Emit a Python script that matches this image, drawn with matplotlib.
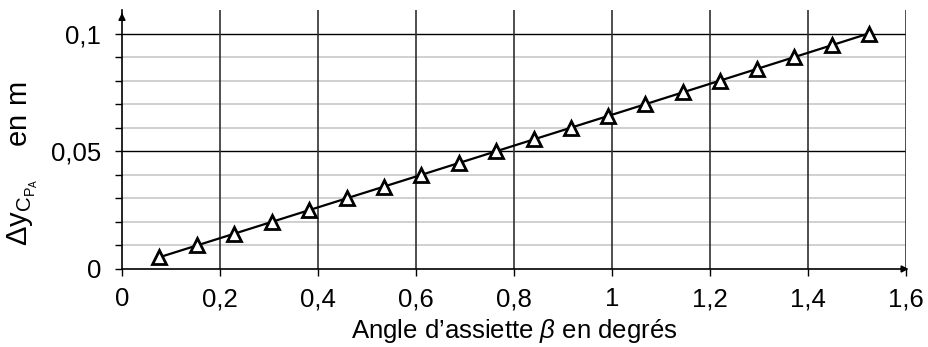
import matplotlib
matplotlib.use("Agg")
import matplotlib.pyplot as plt

plt.rcParams['font.family'] = ['Liberation Sans', 'DejaVu Sans']
plt.rcParams['mathtext.fontset'] = 'custom'
plt.rcParams['mathtext.rm'] = 'Liberation Sans'
plt.rcParams['mathtext.it'] = 'Liberation Sans:italic'

# Data
beta_deg = [0.0764, 0.1528, 0.2292, 0.3056, 0.3820, 0.4583, 0.5347, 0.6110,
            0.6873, 0.7636, 0.8398, 0.9160, 0.9922, 1.0683, 1.1443, 1.2204,
            1.2963, 1.3722, 1.4480, 1.5237]
delta_y = [0.005, 0.010, 0.015, 0.020, 0.025, 0.030, 0.035, 0.040, 0.045, 0.050,
           0.055, 0.060, 0.065, 0.070, 0.075, 0.080, 0.085, 0.090, 0.095, 0.100]
x_ticks = [0, 0.2, 0.4, 0.6, 0.8, 1.0, 1.2, 1.4, 1.6]
x_tick_labels = ["0", "0,2", "0,4", "0,6", "0,8", "1", "1,2", "1,4", "1,6"]
y_major = [0, 0.05, 0.1]
y_major_labels = ["0", "0,05", "0,1"]
y_minor = [0.01, 0.02, 0.03, 0.04, 0.06, 0.07, 0.08, 0.09]

fig = plt.figure(figsize=(9.29, 3.47), dpi=100)
ax = fig.add_axes([122/929, 78/347, (906-122)/929, (269-10)/347])
ax.set_xlim(0, 1.6)
ax.set_ylim(0, 0.11)

# grid
for yv in y_minor:
    ax.axhline(yv, color='#c8c8c8', lw=1.2, zorder=1)
for yv in y_major[1:]:
    ax.axhline(yv, color='black', lw=1.0, zorder=1)
for xv in x_ticks[1:]:
    ax.axvline(xv, color='#303030', lw=1.2, zorder=1)

ax.plot(beta_deg, delta_y, color='black', lw=1.6, marker='^', markersize=10,
        markerfacecolor='white', markeredgecolor='black', markeredgewidth=2.0, zorder=3)

for s in ['top', 'right']:
    ax.spines[s].set_visible(False)
for s in ['left', 'bottom']:
    ax.spines[s].set_linewidth(1.2)

ax.annotate('', xy=(1.007, 0), xycoords='axes fraction', xytext=(0.99, 0),
            arrowprops=dict(arrowstyle='-|>', color='black', lw=1.2, mutation_scale=10),
            annotation_clip=False)
ax.annotate('', xy=(0, 1.0), xycoords='axes fraction', xytext=(0, 0.97),
            arrowprops=dict(arrowstyle='-|>', color='black', lw=1.2, mutation_scale=10),
            annotation_clip=False)

ax.set_xticks(x_ticks)
ax.set_xticklabels(x_tick_labels)
ax.set_yticks(y_major)
ax.set_yticklabels(y_major_labels)
ax.set_yticks(y_major + y_minor, minor=True)
ax.tick_params(axis='both', which='major', labelsize=18.5, length=5, width=1.0, color='black')
ax.tick_params(axis='y', which='minor', length=5, width=1.0)
ax.tick_params(axis='x', pad=8)
ax.tick_params(axis='y', pad=10)

ax.set_xlabel(r"Angle d’assiette $\mathit{\beta}$ en degrés", fontsize=18.5, labelpad=4)
ax.set_ylabel(r"$\mathrm{\Delta y}_{\mathrm{C_{P_A}}}\quad$ en m", fontsize=21)
ax.yaxis.set_label_coords(-0.104, 0.405)

fig.savefig("out.png", dpi=100)
